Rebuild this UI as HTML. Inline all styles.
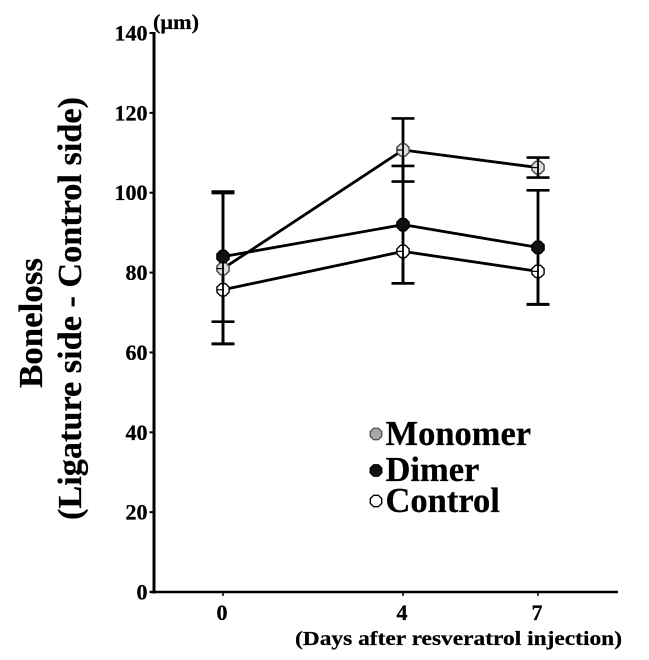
<!DOCTYPE html>
<html>
<head>
<meta charset="utf-8">
<style>
html,body{margin:0;padding:0;background:#fff;}
svg{display:block;}
text{font-family:"Liberation Serif",serif;font-weight:bold;fill:#000;stroke:#000;stroke-width:0.25px;}
</style>
</head>
<body>
<svg id="chart" width="649" height="660" viewBox="0 0 649 660" xmlns="http://www.w3.org/2000/svg">
<text transform="translate(42,323) rotate(-90)" text-anchor="middle" font-size="34" textLength="130" lengthAdjust="spacingAndGlyphs">Boneloss</text>
<text transform="translate(81,308.5) rotate(-90)" text-anchor="middle" font-size="34" textLength="423" lengthAdjust="spacingAndGlyphs">(Ligature side - Control side)</text>
<text x="153" y="29" font-size="21" textLength="46" lengthAdjust="spacingAndGlyphs">(μm)</text>
<text x="295" y="645" font-size="20.5" textLength="327" lengthAdjust="spacingAndGlyphs">(Days after resveratrol injection)</text>
</svg>
<script>
const days = [0, 4, 7];
const yTicks = [0, 20, 40, 60, 80, 100, 120, 140];
const monomerValues = [81, 110.7, 106.3];
const dimerValues = [84, 92, 86.3];
const controlValues = [75.7, 85.3, 80.3];
const monomerErrors = [18.9, 7.9, 2.5];
const dimerErrors = [16.3, 14.7, 14.3];
const controlLowerErrors = [13.5, 8, 8.2];
const seriesNames = ['Monomer', 'Dimer', 'Control'];

const svg = document.getElementById('chart');
const NS = 'http://www.w3.org/2000/svg';
function xScale(d) { return 223 + 45 * d; }
function yScale(v) { return 592 - v * 559 / 140; }

function line(x1, y1, x2, y2, w, name) {
  const el = document.createElementNS(NS, 'line');
  el.setAttribute('x1', x1);
  el.setAttribute('y1', y1);
  el.setAttribute('x2', x2);
  el.setAttribute('y2', y2);
  el.setAttribute('stroke', '#000');
  el.setAttribute('stroke-width', w);
  
  
  svg.appendChild(el);
}
function label(x, y, size, anchor, str, name) {
  const el = document.createElementNS(NS, 'text');
  el.setAttribute('x', x);
  el.setAttribute('y', y);
  el.setAttribute('font-size', size);
  el.setAttribute('text-anchor', anchor);
  el.textContent = str;
  
  
  svg.appendChild(el);
}
function marker(cx, cy, r, fill, stroke, name) {
  const el = document.createElementNS(NS, 'polygon');
  const pts = [];
  for (let i = 0; i < 8; i++) {
    const a = Math.PI / 4 * i + Math.PI / 8;
    pts.push((cx + r * Math.cos(a)).toFixed(2) + ',' + (cy + r * Math.sin(a)).toFixed(2));
  }
  el.setAttribute('points', pts.join(' '));
  el.setAttribute('fill', fill);
  el.setAttribute('stroke', stroke);
  el.setAttribute('stroke-width', 1.4);
  
  
  svg.appendChild(el);
}

line(154, 32, 154, 593.5, 3, 'y-axis-line');
line(150, 592, 618, 592, 2.6, 'x-axis-line');
yTicks.forEach(function (t) {
  line(149.5, yScale(t), 154, yScale(t), 2, 'y-tick-' + t);
  label(147.5, yScale(t) + 7.5, 22, 'end', String(t), 'y-tick-label-' + t);
});
days.forEach(function (d) {
  line(xScale(d), 592, xScale(d), 596, 1.5, 'x-tick-' + d);
  label(xScale(d) - 1, 620, 22, 'middle', String(d), 'x-tick-label-' + d);
});

function drawErrors(values, upper, lower, key) {
  days.forEach(function (d, i) {
    const x = xScale(d);
    const lo = yScale(values[i] - lower[i]);
    const hi = upper ? yScale(values[i] + upper[i]) : yScale(values[i]);
    line(x, hi, x, lo, 2.8, key + '-error-bar-' + d);
    if (upper) {
      line(x - 11.5, hi, x + 11.5, hi, 2.6, key + '-error-cap-upper-' + d);
    }
    line(x - 11.5, lo, x + 11.5, lo, 2.6, key + '-error-cap-lower-' + d);
  });
}
function drawLine(values, key) {
  for (let i = 0; i < days.length - 1; i++) {
    line(xScale(days[i]), yScale(values[i]), xScale(days[i + 1]), yScale(values[i + 1]), 2.8, key + '-line-segment-' + i);
  }
}
function drawMarkers(values, fill, stroke, key) {
  days.forEach(function (d, i) {
    const x = xScale(d);
    const y = yScale(values[i]);
    marker(x, y, 6.6, fill, stroke, key + '-point-' + d);
    if (fill !== '#111') {
      line(x, y - 6.5, x, y + 6.5, 1.8, key + '-point-stem-' + d);
      line(x - 6.5, y, x + 1, y, 1.2, key + '-point-dash-' + d);
    }
  });
}
drawErrors(monomerValues, monomerErrors, monomerErrors, 'monomer');
drawErrors(dimerValues, dimerErrors, dimerErrors, 'dimer');
drawErrors(controlValues, null, controlLowerErrors, 'control');
drawLine(monomerValues, 'monomer');
drawLine(dimerValues, 'dimer');
drawLine(controlValues, 'control');
drawMarkers(monomerValues, '#dddddd', '#444', 'monomer');
drawMarkers(controlValues, '#ffffff', '#000', 'control');
drawMarkers(dimerValues, '#111', '#000', 'dimer');

const legendFills = ['#a8a8a8', '#111', '#ffffff'];
const legendStrokes = ['#555', '#000', '#000'];
const legendMarkerRows = [434, 470.5, 501];
const legendTextRows = [445, 481, 512];
seriesNames.forEach(function (n, i) {
  const key = n.toLowerCase();
  marker(376, legendMarkerRows[i], 6.2, legendFills[i], legendStrokes[i], 'legend-marker-' + key);
  label(385.5, legendTextRows[i], 34.5, 'start', n, 'legend-label-' + key);
});
</script>
</body>
</html>
